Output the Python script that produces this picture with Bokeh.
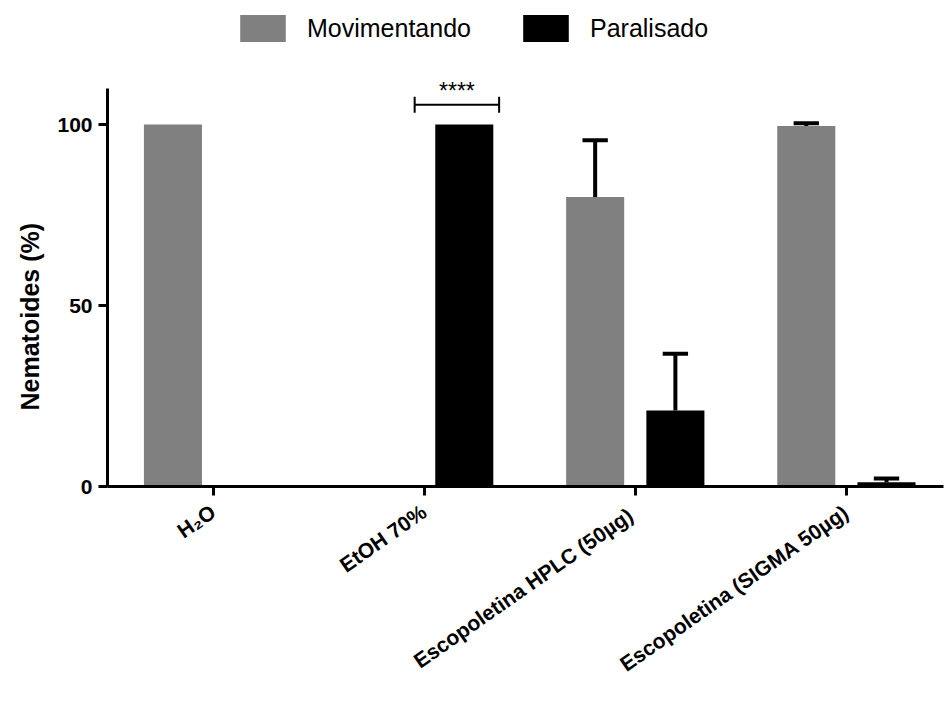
from bokeh.plotting import figure
from bokeh.models import (ColumnDataSource, FixedTicker, Legend, LegendItem,
                          Range1d, Title)
from bokeh.embed import file_html
from bokeh.resources import INLINE

# Treatment groups and response percentages (mean and SD)
groups = ["H\u2082O", "EtOH 70%", "Escopoletina HPLC  (50\u00b5g)",
          "Escopoletina (SIGMA 50\u00b5g)"]
moving_mean = [100.0, 0.0, 80.0, 99.6]
moving_sd = [0.0, 0.0, 15.7, 0.8]
paralysed_mean = [0.0, 100.0, 21.0, 1.2]
paralysed_sd = [0.0, 0.0, 15.7, 1.0]
y_ticks = [0, 50, 100]
y_title = "Nematoides (%)"
sig_label = "****"

FONT = "Liberation Sans"
GREY = "#808080"
BLACK = "#000000"
OFFSET = 0.19
BAR_W = 0.275
CAP = 0.06
Y_AXIS_TOP = 110      # the y axis line stops here
Y_VIEW_TOP = 134.3    # headroom above the axis holds the legend

idx = list(range(len(groups)))

p = figure(width=946, height=704, output_backend="svg", toolbar_location=None,
           x_range=Range1d(-0.5, 3.46), y_range=Range1d(0, Y_VIEW_TOP),
           min_border_left=107, min_border_right=3, min_border_top=0,
           min_border_bottom=218)
p.grid.visible = False
p.outline_line_color = None
p.background_fill_color = "white"

src_mov = ColumnDataSource(dict(x=[i - OFFSET for i in idx], top=moving_mean))
src_par = ColumnDataSource(dict(x=[i + OFFSET for i in idx], top=paralysed_mean))
r_mov = p.vbar(x="x", top="top", width=BAR_W, source=src_mov,
               fill_color=GREY, line_color=None)
r_par = p.vbar(x="x", top="top", width=BAR_W, source=src_par,
               fill_color=BLACK, line_color=None)

# upward-only error bars with caps
for means, sds, off in ((moving_mean, moving_sd, -OFFSET),
                        (paralysed_mean, paralysed_sd, OFFSET)):
    xs = [i + off for i, s in zip(idx, sds) if s > 0]
    lo = [m for m, s in zip(means, sds) if s > 0]
    hi = [m + s for m, s in zip(means, sds) if s > 0]
    p.segment(x0=xs, y0=lo, x1=xs, y1=hi, line_color=BLACK, line_width=4)
    p.segment(x0=[x - CAP for x in xs], y0=hi, x1=[x + CAP for x in xs], y1=hi,
              line_color=BLACK, line_width=4)

# significance bracket over the EtOH group
bx0, bx1, by = 0.955, 1.355, 105.5
p.segment(x0=[bx0, bx0, bx1], y0=[by, by - 2.2, by - 2.2],
          x1=[bx1, bx0, bx1], y1=[by, by + 2.2, by + 2.2],
          line_color=BLACK, line_width=2)
p.text(x=[(bx0 + bx1) / 2], y=[by + 0.3], text=[sig_label],
       text_align="center", text_baseline="bottom",
       text_font_size="23px", text_color=BLACK,
       text_font={"value": FONT})

# axes
ya = p.yaxis[0]
ya.ticker = FixedTicker(ticks=y_ticks)
ya.bounds = (0, Y_AXIS_TOP)
ya.minor_tick_line_color = None
ya.axis_line_width = 3
ya.major_tick_line_width = 3
ya.major_tick_out = 9
ya.major_tick_in = 0
ya.major_label_text_font = FONT
ya.major_label_text_font_style = "bold"
ya.major_label_text_font_size = "21px"
ya.major_label_text_color = BLACK
ya.major_label_standoff = 6

# y title placed along the 0-110 span of the axis rather than the whole frame
p.add_layout(Title(text=y_title, align="left", offset=76, standoff=22,
                   text_font=FONT, text_font_style="bold",
                   text_font_size="25px", text_color=BLACK), "left")

xa = p.xaxis[0]
xa.ticker = FixedTicker(ticks=idx)
xa.major_label_overrides = {i: g for i, g in zip(idx, groups)}
xa.minor_tick_line_color = None
xa.axis_line_width = 3
xa.major_tick_line_width = 3
xa.major_tick_out = 9
xa.major_tick_in = 0
xa.major_label_orientation = 0.61
xa.major_label_text_font = FONT
xa.major_label_text_font_style = "bold"
xa.major_label_text_font_size = "21px"
xa.major_label_text_color = BLACK
xa.major_label_standoff = 14

# legend in the headroom above the y axis, placed in screen units
legend = Legend(items=[LegendItem(label="Movimentando", renderers=[r_mov]),
                       LegendItem(label="Paralisado", renderers=[r_par])],
                orientation="horizontal", location=(127, 441),
                label_text_font=FONT, label_text_font_size="25px",
                label_text_color=BLACK,
                glyph_width=57, glyph_height=34, spacing=46,
                label_standoff=16, border_line_color=None,
                background_fill_alpha=0, margin=0, padding=0)
p.add_layout(legend, "center")

open("out.html", "w").write(file_html(p, INLINE))
